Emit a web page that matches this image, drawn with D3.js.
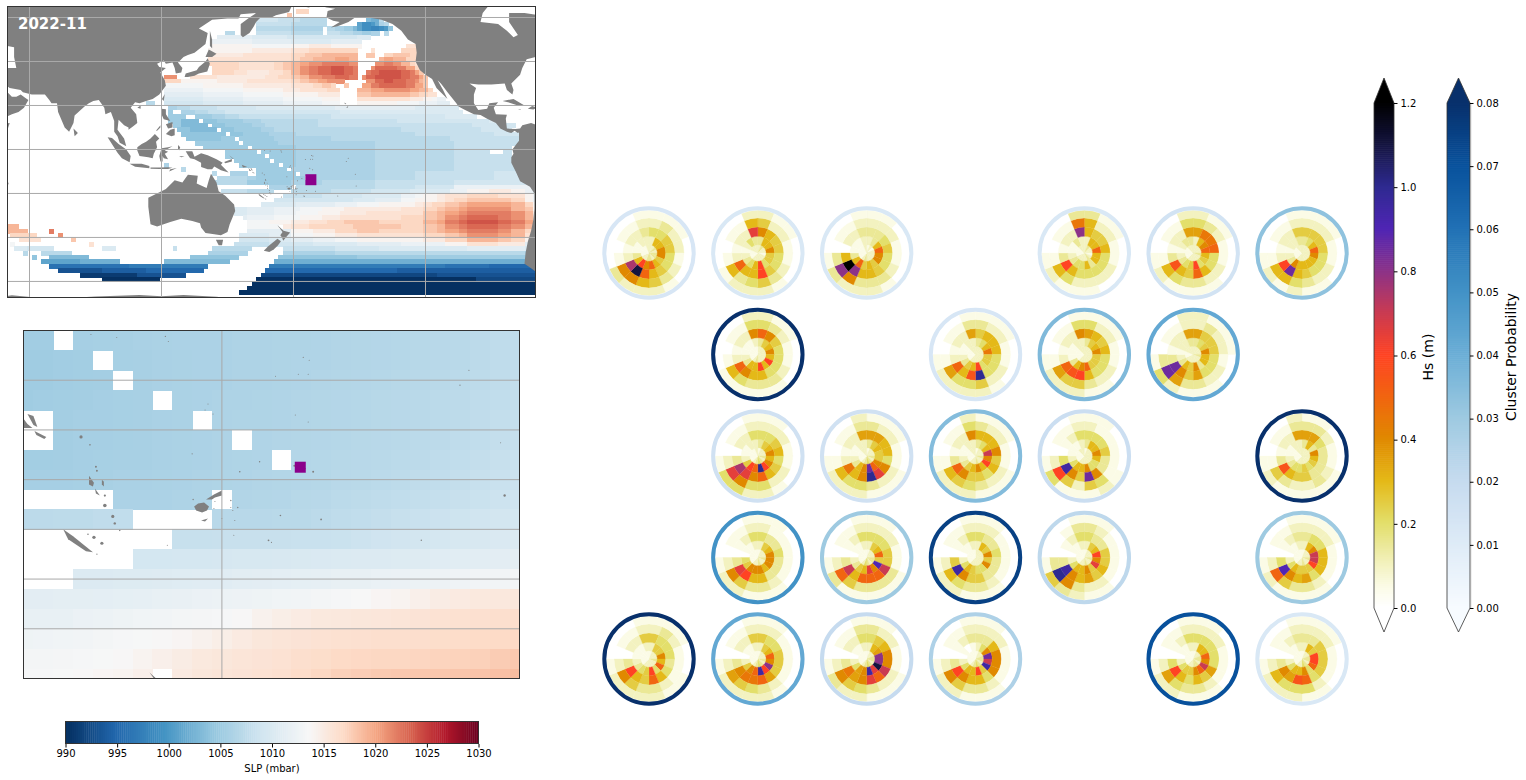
<!DOCTYPE html>
<html>
<head>
<meta charset="utf-8">
<script src="https://cdn.jsdelivr.net/npm/d3@7"></script>
<style>
  html, body { margin: 0; padding: 0; background: #fff; }
  svg { display: block; }
  text { font-family: "DejaVu Sans", sans-serif; }
</style>
</head>
<body>
<svg id="chart" width="1526" height="780"></svg>
<script>
// SLP colour bar
const slpTicks = [990, 995, 1000, 1005, 1010, 1015, 1020, 1025, 1030];
const slpStops = [990, 994.7, 999.4, 1004, 1008.8, 1013.5, 1016.8, 1020, 1023.4, 1026.7, 1030];
const slpColors = ["#053061", "#2166ac", "#4393c3", "#92c5de", "#d1e5f0", "#f7f7f7", "#fddbc7", "#f4a582", "#d6604d", "#b2182b", "#67001f"];

// Hs and probability colour bars
const hsTicks = [0, 0.2, 0.4, 0.6, 0.8, 1.0, 1.2];
const hsStops = [0, 0.05, 0.1, 0.15, 0.2, 0.3, 0.4, 0.5, 0.6, 0.7, 0.8, 0.9, 1.0, 1.1, 1.2];
const hsColors = ["#ffffff", "#fbfbe6", "#f3f2c0", "#ebe896", "#e3df6b", "#e4b918", "#e08900", "#f16510", "#ff4323", "#c93b52", "#8b3288", "#4f25b4", "#2e2a90", "#14143f", "#000000"];
const probTicks = [0, 0.01, 0.02, 0.03, 0.04, 0.05, 0.06, 0.07, 0.08];
const probColors = ["#f7fbff", "#deebf7", "#c6dbef", "#9ecae1", "#6baed6", "#4292c6", "#2171b5", "#08519c", "#08306b"];

// Target location (lon, lat)
const siteLon = 187.9;
const siteLat = -13.75;

// Basin SLP, one run-length row per 2 degree band from 66N. Column 0 starts at 49E.
// "12." = 12 empty cells, "5k" = 5 cells at level k of slpLevels
const slpLevels = "ABCDEFGHIJabcdefghijklmnopqrstuvwxyzKLMNO"; // 990 .. 1030 mbar
const slpBasinRows = [
  "", "66.3r", "64.1s",
  "57.5j5i6h9.1d2c1h",
  "57.8i8h7.1b2J1a1c1g1h",
  "57.8h7g1.2h2g2f1d1b2J2I1J1a1e",
  "50.2h5.8i7h1.3i3h2g2f2g1.1h",
  "48.8l8k8j8j3k",
  "47.9m9l9k7l",
  "47.9o9n4o5p5o2o10.3q",
  "46.10o9p4q11r3.1q6.4r",
  "46.8p8q3q3r4s4t4t2.2s2.2r4s2r",
  "46.7q7q5q2r3s5t3u2t5.1t2u3t3r",
  "46.7r5q3q2r2s2t2u3v3w3w2v4.2v2w2v2t1r1q",
  "47.6r5q3q2r2s2t2v2w3x3y2x1w3.1v2x3x2w2u2r",
  "47.5r3q5p3q2r2t2v2w3x3y2x1w2.1w2x2y3y2x1w1u1s",
  "36.3v3.6q4p4p3p3q3r2s2t3v3w3x2w1.1v2x2y4y2x2w1u1s",
  "36.4r8o7p4q4q2q2r2s2t2u2v2v5.2v2x2y3x2w1v1t1s",
  "36.9n9o9p2p3q2q2r2s1r2.1s3.2u2w3x3x2w2u1s",
  "36.9m9n9o4p6q3r4.3t3u3v3v2u2t1r",
  "36.9l9m9n8o5p4.3s3t3t3t2s2r2q",
  "36.9k9l9m9n4o4.4q4q4q3p2o1n2m",
  "32.2h2.9j9k9l9m4n4.4o5o5n4m2l1l",
  "37.2g3h6i9j9k9k9l9l10k",
  "37.1f2.3g3h4i8j9j9j9k9k10k",
  "37.4f2.4f3g3h4i8i9i9j9j8j7k",
  "37.3f4d1.3e3f3f4g5h8h9i9i9j6j6j3k",
  "38.2f3d3d1.3e3f3f3g3h9h9i9i9i8i6j4j",
  "39.3e3d3d1.3e3f3f3g2h9h9h9h9i9i7j",
  "40.5e5e1.3e3f3f3g3g9h9h9h9i9i6j",
  "41.4e4e3f1.4f4f4g9g9h9h9h9i8i",
  "43.5f5f1.4f4f4g9g9g9h9h9i6i",
  "45.5f5f1.5f5f9g9g9h9h9i4i",
  "50.7f1.8f9g9g9h9h8i3.2i",
  "50.9f1.6f9g9g9h9h9i4i",
  "52.8f1.5f9g9g9h9h9i4i",
  "36.1g16.9f1.3f9g9g9h9h9i5i",
  "40.1h16.7f1.10g9g9h9h9i6i",
  "47.1h3.4g2.9f1.8g9g9h9i9i7j",
  "48.7h2g9f2f1.6g9g9h9i9i8j",
  "47.8h10f7g3h9h9i9i9j9j",
  "60.5g1.9h9h9i9j9m9m1m",
  "49.6i6h4.9h9i9j9k4m5o5p3o2m1k",
  "63.9i9j9k3m2n3o2p5q7r6q2o1m",
  "61.9j9j5k6l3n2o3o2p2q3r7s3s3r2o1m",
  "58.8k9l5m5n5o3o2p2q3r3s2t7u3u3t2r1o",
  "52.3k6l6m5n5o5p8p5q3r2s3t2u7v3v3t2s1o",
  "52.3k6l5m5n5o6p8q5q3s2t3u2v7w3w3v2t1p",
  "54.1l6m6n5o4p4q5q5q5r3s2t3v2w7x3w3v2t1p",
  "55.5n5o4p4q4r4s4s5r5r3t2u3w2x7y3x3w2u1p",
  "3t52.7n1.2p4q4r6r4s7s5r3s2t3v2w7x3w3v2t1o",
  "5t5.1w44.10l5o5p5r5s5r5r3s2t3u2v7w3v3t2r1n",
  "1.6r5.1v40.7k5l5n5o5p5q5q5q5r3s2t7v3u3t2q1m",
  "3.5q7.1s37.7j5k5l5m5n5o5o5o5p5r7t3s3r2o1l",
  "1.1n17.1q32.8i5j5j5k5k5l5l5m5m5o7q6p3l",
  "2.3k6j11.3k13.1i8.9h7.7i5i5j5j5k5k5k5k7l6l3k",
  "4.1h3.7h31.9g8.7g5g5h5h5h5h5h5h7h6h3g",
  "6.1e3.9d23.11e9.8e5e5e5f5f5f5f5f7f6f3e",
  "8.9b9c10.8d7d10.9c5c5c5c5c5c5c5c7c6c3b",
  "10.9G9G8H10H14.40H10G11F",
  "12.10D10E13F14.30F32E",
  "17.13B11D17.40C23D",
  "22.13A22.50A14C",
  "56.65A",
  "55.66A",
  "53.68A",
  ""
];

// Zoomed SLP around the site: mbar above 1000, 2 degree cells from 159E and 0 lat
const n = null;
const slpZoomRows = [
  [5.2, 5.2, n, 5.5, 5.6, 5.7, 5.8, 5.9, 6, 6, 6, 6.1, 6.1, 6.2, 6.2, 6.3, 6.4, 6.5, 6.6, 6.7, 6.8, 6.9, 7, 7.2, 7.4, 7.5],
  [5.1, 5.1, 5.2, 5.3, n, 5.6, 5.7, 5.8, 5.9, 6, 6, 6.1, 6.1, 6.2, 6.3, 6.3, 6.4, 6.5, 6.6, 6.7, 6.8, 6.9, 7, 7.2, 7.4, 7.6],
  [5.1, 5.1, 5.2, 5.3, 5.4, n, 5.7, 5.8, 5.9, 6, 6, 6.1, 6.1, 6.2, 6.3, 6.4, 6.5, 6.6, 6.7, 6.8, 6.9, 7, 7.1, 7.3, 7.5, 7.7],
  [5.1, 5.2, 5.3, 5.4, 5.5, 5.6, 5.7, n, 5.9, 6, 6.1, 6.1, 6.2, 6.3, 6.4, 6.5, 6.6, 6.7, 6.8, 6.9, 7, 7.1, 7.2, 7.4, 7.6, 7.8],
  [n, n, 5.4, 5.5, 5.5, 5.6, 5.7, 5.8, 5.9, n, 6.1, 6.2, 6.2, 6.3, 6.4, 6.5, 6.6, 6.7, 6.8, 6.9, 7, 7.1, 7.3, 7.5, 7.7, 7.9],
  [n, n, 5.4, 5.5, 5.5, 5.6, 5.7, 5.8, 5.9, 6, 6.1, n, 6.3, 6.4, 6.5, 6.6, 6.7, 6.8, 6.9, 7, 7.1, 7.2, 7.4, 7.6, 7.8, 8],
  [5.3, 5.3, 5.4, 5.5, 5.6, 5.7, 5.7, 5.8, 5.9, 6, 6.1, 6.2, 6.3, n, 6.6, 6.7, 6.8, 6.9, 7, 7.1, 7.2, 7.4, 7.6, 7.8, 8, 8.2],
  [5.5, 5.5, 5.5, 5.6, 5.7, 5.8, 5.8, 5.9, 6, 6.1, 6.2, 6.3, 6.4, 6.5, 6.6, 6.7, 6.9, 7, 7.1, 7.3, 7.5, 7.6, 7.8, 8, 8.2, 8.4],
  [n, n, n, n, n, 6, 6, 6, 6.1, 6.2, n, 6.4, 6.5, 6.6, 6.8, 6.9, 7.1, 7.3, 7.4, 7.6, 7.7, 7.9, 8.1, 8.3, 8.5, 8.7],
  [7.2, 7.2, 7.3, 7.3, 7.5, 7.6, n, n, n, n, 6.9, 6.9, 6.9, 7, 7, 7.2, 7.4, 7.6, 7.8, 8, 8.2, 8.4, 8.6, 8.8, 9, 9.2],
  [n, n, n, n, n, n, n, n, 8, 8, 8.1, 8.1, 8.1, 8.1, 8.2, 8.2, 8.3, 8.5, 8.7, 8.9, 9.1, 9.3, 9.5, 9.7, 9.9, 10],
  [n, n, n, n, n, n, 9.2, 9.2, 9.3, 9.3, 9.4, 9.5, 9.6, 9.7, 9.8, 9.9, 10, 10.1, 10.2, 10.3, 10.4, 10.6, 10.8, 10.9, 11, 11.1],
  [n, n, n, 10.2, 10.2, 10.3, 10.3, 10.4, 10.5, 10.6, 10.7, 10.9, 11, 11.2, 11.3, 11.4, 11.6, 11.7, 11.9, 12, 12.2, 12.3, 12.5, 12.7, 12.8, 13],
  [11, 11, 11.1, 11.1, 11.2, 11.3, 11.4, 11.6, 11.8, 12, 12.1, 12.3, 12.4, 12.6, 12.8, 13, 13.2, 13.5, 13.8, 14, 14.4, 14.8, 15, 15.2, 15.3, 15.4],
  [11.6, 11.6, 11.7, 12, 12.2, 12.4, 12.6, 12.8, 13, 13.1, 13.3, 13.6, 14.2, 14.6, 14.9, 15.2, 15.3, 15.4, 15.5, 15.6, 15.8, 16, 16.1, 16.2, 16.3, 16.4],
  [12.4, 12.5, 12.6, 12.8, 13, 13.2, 13.4, 13.6, 13.8, 14.2, 14.6, 15, 15.4, 15.6, 15.8, 16, 16.1, 16.2, 16.3, 16.3, 16.4, 16.5, 16.6, 16.7, 16.8, 16.9],
  [13, 13, 13.1, 13.2, 13.4, 13.6, 14, 14.4, 14.8, 15.2, 15.4, 15.6, 15.8, 16, 16.3, 16.5, 16.8, 16.9, 17, 17, 17.1, 17.2, 17.3, 17.4, 17.7, 17.9],
  [13.2, 13.3, 13.4, 13.6, 13.8, 14, 14.4, n, 15, 15.4, 15.6, 15.8, 16, 16.2, 16.6, 17, 17.4, 17.6, 17.8, 17.9, 18, 18, 18.1, 18.2, 18.4, 18.6]
];

// Land outlines as lon/lat lists (lon runs past 180 so the Pacific stays whole)
const landShapes = [
  [[20,75],[190,75],[190,66],[187,64.5],[182,65.5],[179,64.8],[178,62.5],[172,61],[170,60],[165,60],[163,58],[162,56],[160,53],[157,51],[156,52],[156,57],[160,60],[163,62],[156,61.5],[155,59.5],[150,59.5],[143,59],[137,55],[141,53],[140,48],[135,44],[132,43],[130,42],[128,40],[127.5,39.5],[129.5,37],[129,35],[126.5,34.5],[126,37],[125,39.5],[122,39],[121,40.5],[118,39],[119,37.5],[122,37],[119.5,35],[121.5,31.5],[122,29],[119,25],[116,23],[113,22],[110,21],[108,21.5],[106,19],[108.5,16],[109,12],[107,10.5],[105,9],[105,10],[103,11],[100.5,13.5],[100,9],[103,5],[104,1.5],[101,3],[100,6],[98.5,8],[98.5,13],[97,17],[94.5,16],[94,19],[91.5,22.5],[89,22],[87,21],[85,19.5],[80.5,15.5],[80,12],[78,8],[76,10],[73,17],[72.5,21],[70,21],[69,22.5],[67,25],[61,25],[57,26],[56,27],[51,28],[48,30],[50,26],[52,24],[54,24],[56,25],[58,23.5],[59.5,22.5],[57.5,19],[55,17],[52,16],[45,13],[43,13],[40,16],[35,28],[30,31],[20,33]],
  [[30,10],[51,12],[49,6],[41,-2],[30,-10]],
  [[49,-12],[50.5,-15.5],[49.5,-18],[47,-25],[44,-25],[44,-16]],
  [[80,9.5],[82,7.5],[80.5,6]],
  [[130.5,33],[131,34.5],[136,36],[137,37.5],[140,40],[141,41.5],[142,39],[140.8,35.5],[137,34.5],[135,33.5],[132,33]],
  [[140,42],[141.5,45.5],[145,43.5],[143,42]],
  [[142,54],[143,50],[143,46],[142,47],[142,52]],
  [[120.2,23],[121.5,25.2],[121,22]],
  [[109,19],[110.5,20],[110.5,18.5]],
  [[120,18.5],[122,18.3],[122,16],[124,13],[121,13.7],[120,16]],
  [[122,7],[124,9],[126,9.5],[126,6.5],[124.5,6]],
  [[122,11.5],[125,12.5],[125,10],[123,9.5]],
  [[117.5,8.5],[119.5,11],[119.5,10],[118,8.5]],
  [[109,1],[111,2.5],[113,3.5],[115,5],[117,7],[119,5],[117.5,3.5],[118,1],[116.5,-2],[116,-4],[114,-3.5],[110,-3],[109,-0.5]],
  [[95.5,5.5],[97.5,5.2],[100.5,2.5],[104,0],[106,-3],[105.5,-5.8],[102,-4],[100,-1.5]],
  [[105.5,-6.5],[108,-6.5],[111,-6.5],[114.5,-7.5],[114.5,-8.5],[108,-7.8]],
  [[115,-8.2],[119,-8.2],[123,-8.1],[125,-8.3],[123,-8.9],[119,-8.9],[115,-8.8]],
  [[123.5,-10],[127,-8.4],[124,-9]],
  [[119.5,-5.5],[119,-3],[120,0.5],[123,1],[125,1.5],[121.5,-0.5],[123,-1],[121.5,-2],[123,-4.5],[121,-4],[120.5,-3],[120.5,-5.5]],
  [[127.5,2],[128.5,1],[128,-0.5],[127.5,0.5]],
  [[128,-3],[130.5,-3.2],[129,-3.5]],
  [[131,-0.8],[134,-0.8],[135,-3.3],[138,-1.7],[141,-2.6],[145,-4.5],[147.8,-6],[147,-7],[150.5,-10.5],[147,-9.5],[144,-7.7],[143,-9],[141,-9],[138,-8],[138,-6],[135,-4.5],[133,-4],[132,-2.5]],
  [[148.5,-5.7],[152,-4.3],[152,-5.5],[149,-6.3]],
  [[150.8,-2.6],[153,-4.5],[152.3,-4.2]],
  [[156.5,-7],[159,-8],[157,-8.2]],
  [[159.5,-8.2],[160.4,-9.4],[160.9,-9.8],[160,-9.8]],
  [[160.4,-8.4],[161,-8.6],[161.4,-9.7],[161,-9.5]],
  [[161.1,-10.1],[162.3,-10.7],[162.1,-10.9],[161.3,-10.5]],
  [[164,-20],[165,-20.7],[167,-22.3],[166.3,-22.2],[164.5,-21]],
  [[166.6,-14.6],[167.1,-15.3],[167,-15.7],[166.6,-15.5]],
  [[167.2,-15.9],[167.7,-16.6],[167.3,-16.4]],
  [[167.9,-15],[168.1,-15.2],[168.1,-15.7],[167.9,-15.5]],
  [[177.2,-17.7],[177.6,-17.4],[178.2,-17.3],[178.7,-17.7],[178.5,-18.1],[178,-18.3],[177.4,-18.1]],
  [[178.4,-17],[179.2,-16.5],[180,-16.1],[180,-16.6],[179.3,-16.8],[179,-17]],
  [[177.9,-19.1],[178.6,-18.9],[178.3,-19.2]],
  [[172.7,-34.4],[174.5,-36],[175.5,-37],[178.5,-37.7],[177,-39.5],[175.3,-41.5],[174.8,-40],[174,-39],[175,-37.5]],
  [[172.7,-40.6],[174.3,-41.7],[172.8,-43.8],[171,-45.5],[169,-46.6],[166.5,-46],[168.5,-44]],
  [[114,-22],[114,-26],[115,-34],[118,-35],[124,-33],[129,-31.5],[134,-32.5],[137.5,-33.5],[138,-35.5],[140,-38],[144,-38.5],[147,-39],[150,-37.5],[151,-34],[153.5,-28],[153,-25],[149,-21],[146,-19],[145,-15],[142.5,-11],[141.5,-14],[140.5,-17.5],[136,-15.5],[136.5,-12],[132,-11.5],[129.5,-15],[126,-14],[122,-18],[117,-20.5]],
  [[144.7,-41],[148,-41],[147.5,-43.5],[146,-43.5]],
  [[40,-68],[52,-66.3],[58,-66.8],[70,-68],[90,-66.8],[100,-66.5],[110,-66.2],[120,-66.7],[130,-66.2],[145,-67],[155,-68]],
  [[192,65.5],[195,64.5],[199,64],[195.5,63],[195,60],[198,58.5],[201,58],[197,55.5],[200,56],[205,58],[208,60],[212,60],[214,60],[220,59],[225,57],[229,54],[232,50],[235.5,48],[236,44],[235.5,40],[237.5,36],[240,34],[243,32],[245,28],[250,23],[248,27],[245.5,31.5],[247,30],[250,26],[254,21],[255,19.5],[258,18],[262,16],[265,15.7],[268,14],[272,12],[274,9.5],[277,8],[279,7.5],[280.5,8.5],[282,7.5],[283,8],[283,9.5],[281,9.3],[277,9.5],[276.5,14],[277,15.8],[272,16],[271,19],[273,21.5],[269,21],[268,18.5],[264,18],[262,21],[262,25],[263,28],[260,30],[264,29.5],[270,29.5],[276,30],[277,27],[279.5,25],[280,27],[279,30],[283,34],[284,37],[286,41],[290,42],[295,45],[300,50],[300,75],[192,75]],
  [[275,22],[280,23],[285,20],[282,20],[277.5,21.5]],
  [[288.5,19.8],[291,19],[289,18.2],[286.5,18.5]],
  [[282,18.3],[283.5,18.2],[283,17.9]],
  [[204,19],[205,20],[204.5,18.9]],
  [[203,21.3],[204,20.8],[203.5,20.6]],
  [[282.5,8.5],[283,9.5],[284,11],[288,12],[291,11],[300,10],[300,-56],[290,-55.5],[288,-54],[285,-52],[285.5,-47],[286.5,-42],[288,-37],[289,-32],[289.5,-27],[289.5,-20],[287.5,-17],[283,-14.5],[281,-10],[279,-6],[279,-3.5],[280,-2],[279.5,0],[281,2],[282.5,4],[282.5,7]]
];
// Inland and polar water, painted back over the land
const waterShapes = [
  [[50,47],[53,46.5],[53,42],[54,37],[50,37]],
  [[265,58],[266,62],[270,67],[292,67],[292,61],[285,62],[278,62],[278,58],[280,55],[282,52],[280,51],[277,54],[273,57]]
];
// Small islands: lon, lat, radius in degrees
const islets = [
  [166.8,-0.4,.05],[169.4,-0.7,.04],[174.3,-0.6,.06],[174.6,-1.1,.05],[188.2,-2.7,.06],[188.8,-3,.04],[185.4,-4.6,.05],[187.7,-4.4,.05],[188.7,-4.4,.03],[204.9,-4,.06],[204,-5.5,.06],[178.6,-7.4,.03],[178.3,-8,.03],[179.1,-8.4,.05],[187.4,-8.5,.05],[188.7,-9.2,.05],[165.8,-10.7,.16],[166.7,-11.5,.08],[208.1,-11.3,.05],[177,-12.4,.06],[183.8,-13.2,.07],[181.8,-14.2,.08],[187.3,-13.6,.1],[188.4,-13.9,.06],[189.2,-14.2,.1],[167.3,-13.7,.1],[167.4,-14.1,.1],[208.5,-16.6,.12],[177.1,-17,.07],[179.3,-17.2,.05],[180.9,-17.1,.07],[180.9,-17.8,.05],[181.6,-17.8,.07],[179.2,-17.9,.05],[181.1,-18.1,.05],[185.9,-18.6,.08],[190,-19,.09],[180,-18.9,.05],[181.3,-19.1,.05],[181.2,-20.6,.05],[184.7,-21.1,.09],[185,-21.3,.06],[200.1,-21.1,.07],[174.5,-21.6,.04],[167.4,-22.5,.06],[166.5,-20.5,.08],[167.1,-20.8,.17],[167.9,-21.4,.16],[168.2,-17.6,.18],[169,-18.7,.16],[169.2,-19.4,.12],[169.7,-20.1,.08],[168.2,-16.6,.11]
];

// Wave roses: grid cell, cluster probability, then Hs per ring (inner to outer).
// One base-36 digit per 22.5 degree sector clockwise from north, digit * 0.05 m
const roseCells = [
  [0,0],[0,1],[0,2],[0,4],[0,5],[0,6],
  [1,1],[1,3],[1,4],[1,5],
  [2,1],[2,2],[2,3],[2,4],[2,6],
  [3,1],[3,2],[3,3],[3,4],[3,6],
  [4,0],[4,1],[4,2],[4,3],[4,5],[4,6]
];
const roseProb = [
  0.013, 0.012, 0.012, 0.012, 0.015, 0.033,
  0.08, 0.013, 0.036, 0.042,
  0.016, 0.016, 0.035, 0.018, 0.08,
  0.05, 0.03, 0.075, 0.022, 0.03,
  0.08, 0.042, 0.02, 0.026, 0.07, 0.012
];
const roseHs = [
  ["2232332332211112","2668856a8c631122","44554456amf21223","2322123568810112","1110001222300001"],
  ["2322122222111222","3668554c64321243","8655445c66a2122d","5221123543610116","2110001222100002"],
  ["1212222232111112","236a88565a631112","334544566go60223","2221123338g30112","1100001222310001"],
  ["2322123222211122","266a663644321132","6556444446c3122g","6221122224610119","3110000111210003"],
  ["2222322222111122","268a654c54321233","799a446a56b31227","4321122334610114","2110001111210002"],
  ["2222222222111122","346a866668321223","555544456hc21225","2221122346610112","1110001121210001"],
  ["2222222232111111","35686c6c66321112","a854444668a21228","4321123334610114","2110001111100002"],
  ["2222222222111122","3469554c65321122","5666444kb6a21227","3221122544710113","1110001222210001"],
  ["2222222222111122","3568555a86311122","76564446cba21228","4221122355710114","1110001122210001"],
  ["2222322222211222","3458663856321223","7555444758h31227","2322122337h30112","2111001112410002"],
  ["1222323432111112","356868ckac521122","4456456a8df30224","2221122448d20112","1100001224410001"],
  ["1222323432111122","356558ah86321122","776648dk86921227","3221122344610113","1110011122210002"],
  ["1222322322111122","346e8c6865321122","6668564558a31228","3221122345610114","1110011122210002"],
  ["1222222222111122","3668644866421112","4445338h58j40124","2111114525c20112","1100012111410001"],
  ["2222222222111122","3638654544321122","7743333556b31227","3321123223510113","1100011111210002"],
  ["1222322322111111","2568886888540112","433433366cd30124","2111112335820112","1100001112210001"],
  ["1222332342111111","256a5i8d65320112","44455eaaa6e30124","2221133335a20112","1100011111310001"],
  ["2222222222111111","2658584456420112","4334333558j50124","2211112334620112","1100001112210001"],
  ["1222322322111111","256c8d5866420112","4335565768j30124","3211112238k30013","1100001123510001"],
  ["1222322322111111","268eec5556420112","3446664768i40123","2221112335a20112","1110001111210001"],
  ["1222322222111111","25586a4c54321112","5444346a56c30225","2321112335820112","1110011222210001"],
  ["1222323432111111","256a8gcja8520112","5445557a99830225","2211112345720112","1100001222210001"],
  ["1223323432111111","267ggmdj87420112","45688ead87930224","3221122345820113","1100011122310001"],
  ["1223323432111111","248hej5c66420101","3368884668c30123","2221112335820112","1100001112210001"],
  ["1223323322111111","266a8ea855420112","4444475646c40124","2221112334720112","1100001112210001"],
  ["1223323422111111","265cca4866420112","3355554ab7830123","2221112444620112","1110001122210001"]
];

const svg = d3.select("#chart");
const slpColor = d3.scaleLinear().domain(slpStops).range(slpColors).clamp(true);
const hsColor = d3.scaleLinear().domain(hsStops).range(hsColors).clamp(true);
const probColor = d3.scaleLinear().domain(probTicks).range(probColors).clamp(true);

// Expand the basin rows into cells
const basinCells = [];
slpBasinRows.forEach((row, i) => {
  let col = 0;
  for (const [, run, code] of row.matchAll(/(\d+)([A-Za-z.])/g)) {
    if (code !== ".") {
      for (let k = 0; k < +run; k++) {
        basinCells.push({ lon: 49 + 2 * (col + k), lat: 66 - 2 * i, slp: 990 + slpLevels.indexOf(code) });
      }
    }
    col += +run;
  }
});
const zoomCells = [];
slpZoomRows.forEach((row, i) => {
  row.forEach((v, c) => {
    if (v !== null) zoomCells.push({ lon: 159 + 2 * c, lat: -2 * i, slp: 1000 + v });
  });
});

const drawMap = (id, cfg, cells) => {
  const x = d3.scaleLinear().domain(cfg.lon).range([cfg.x0, cfg.x1]);
  const y = d3.scaleLinear().domain(cfg.lat).range([cfg.y0, cfg.y1]);
  const shape = d3.line().x((d) => x(d[0])).y((d) => y(d[1]));
  const cellW = Math.abs(x(2) - x(0));
  const cellH = Math.abs(y(-2) - y(0));

  svg.append("clipPath").attr("id", id)
    .append("rect")
    .attr("x", cfg.x0).attr("y", cfg.y0)
    .attr("width", cfg.x1 - cfg.x0).attr("height", cfg.y1 - cfg.y0);

  const g = svg.append("g").attr("clip-path", `url(#${id})`);

  g.selectAll("rect.cell")
    .data(cells)
    .enter()
    .append("rect")
    .attr("class", "cell")
    .attr("x", (d) => x(d.lon))
    .attr("y", (d) => y(d.lat))
    .attr("width", cellW + 0.5)
    .attr("height", cellH + 0.5)
    .attr("shape-rendering", "crispEdges")
    .attr("fill", (d) => slpColor(d.slp));

  g.selectAll("path.land")
    .data(landShapes)
    .enter()
    .append("path")
    .attr("d", (d) => shape(d) + "Z")
    .attr("fill", "#808080");

  g.selectAll("path.water")
    .data(waterShapes)
    .enter()
    .append("path")
    .attr("d", (d) => shape(d) + "Z")
    .attr("fill", "#fff");

  g.selectAll("circle.islet")
    .data(islets)
    .enter()
    .append("circle")
    .attr("cx", (d) => x(d[0]))
    .attr("cy", (d) => y(d[1]))
    .attr("r", (d) => Math.max(0.5, d[2] * cellW / 2))
    .attr("fill", "#808080");

  // Gridlines
  g.selectAll("line.lon")
    .data(cfg.gridLon)
    .enter()
    .append("line")
    .attr("x1", (d) => x(d)).attr("x2", (d) => x(d))
    .attr("y1", cfg.y0).attr("y2", cfg.y1)
    .attr("stroke", "#a9a9a9");
  g.selectAll("line.lat")
    .data(cfg.gridLat)
    .enter()
    .append("line")
    .attr("x1", cfg.x0).attr("x2", cfg.x1)
    .attr("y1", (d) => y(d)).attr("y2", (d) => y(d))
    .attr("stroke", "#a9a9a9");

  // Site marker
  g.append("rect")
    .attr("x", x(siteLon) - cfg.marker / 2)
    .attr("y", y(siteLat) - cfg.marker / 2)
    .attr("width", cfg.marker)
    .attr("height", cfg.marker)
    .attr("fill", "#8b008b");

  svg.append("rect")
    .attr("x", cfg.x0).attr("y", cfg.y0)
    .attr("width", cfg.x1 - cfg.x0).attr("height", cfg.y1 - cfg.y0)
    .attr("fill", "none")
    .attr("stroke", "#333");
};

drawMap("basin", {
  lon: [50, 290], lat: [65, -67.3], x0: 7.5, x1: 535.5, y0: 6.5, y1: 297.5, marker: 11,
  gridLon: [60, 120, 180, 240], gridLat: [60, 40, 20, 0, -20, -40, -60]
}, basinCells);

drawMap("zoom", {
  lon: [160, 210], lat: [0, -35], x0: 23.5, x1: 519.5, y0: 330.5, y1: 678.5, marker: 11,
  gridLon: [180], gridLat: [-5, -10, -15, -20, -25, -30]
}, zoomCells);

svg.append("text")
  .attr("x", 18).attr("y", 29)
  .attr("fill", "#fff")
  .attr("font-size", 15)
  .attr("font-weight", "bold")
  .text("2022-11");

// SLP colour bar (horizontal)
const slpX = d3.scaleLinear().domain([990, 1030]).range([65.5, 478.5]);
svg.append("g")
  .selectAll("rect")
  .data(d3.range(990, 1030, 0.2))
  .enter()
  .append("rect")
  .attr("x", (d) => slpX(d))
  .attr("y", 721)
  .attr("width", (d) => slpX(Math.min(d + 0.2, 1030)) - slpX(d) + (d < 1029.7 ? 0.4 : 0))
  .attr("height", 23)
  .attr("fill", (d) => slpColor(d));
svg.append("rect")
  .attr("x", 65.5).attr("y", 721.5).attr("width", 413).attr("height", 22)
  .attr("fill", "none").attr("stroke", "#333");
const slpAxis = svg.append("g")
  .attr("transform", "translate(0,744)")
  .call(d3.axisBottom(slpX).tickValues(slpTicks).tickSize(3.5).tickPadding(2).tickFormat(d3.format("d")));
slpAxis.select(".domain").remove();
slpAxis.selectAll("text").attr("font-size", 10).attr("font-family", "DejaVu Sans").attr("fill", "#000");
svg.append("text")
  .attr("x", 272).attr("y", 772)
  .attr("text-anchor", "middle")
  .attr("font-size", 10)
  .text("SLP (mbar)");

// Vertical colour bars with extend triangles
const drawBar = (cfg) => {
  const y = d3.scaleLinear().domain(cfg.domain).range([608, 103]);
  const span = cfg.domain[1] - cfg.domain[0];
  svg.append("g")
    .selectAll("rect")
    .data(d3.range(0, 250))
    .enter()
    .append("rect")
    .attr("x", cfg.x0)
    .attr("y", (d) => y(((d + 1) * span) / 250) - 0.3)
    .attr("width", cfg.x1 - cfg.x0)
    .attr("height", 505 / 250 + 0.6)
    .attr("fill", (d) => cfg.color((d * span) / 250));
  const mid = (cfg.x0 + cfg.x1) / 2;
  svg.append("path")
    .attr("d", `M${cfg.x0},103L${mid},78L${cfg.x1},103Z`)
    .attr("fill", cfg.color(cfg.domain[1]));
  svg.append("path")
    .attr("d", `M${cfg.x0},608L${mid},632L${cfg.x1},608Z`)
    .attr("fill", cfg.color(cfg.domain[0]));
  svg.append("path")
    .attr("d", `M${cfg.x0},103L${mid},78L${cfg.x1},103V608L${mid},632L${cfg.x0},608Z`)
    .attr("fill", "none")
    .attr("stroke", "#333")
    .attr("stroke-width", 0.8);
  if (cfg.edge) {
    svg.append("line")
      .attr("x1", cfg.x1 + 0.7).attr("x2", cfg.x1 + 0.7)
      .attr("y1", 103).attr("y2", 608)
      .attr("stroke", "#aaa");
  }
  const axis = svg.append("g")
    .attr("transform", `translate(${cfg.x1},0)`)
    .call(d3.axisRight(y).tickValues(cfg.ticks).tickSize(3.5).tickPadding(3).tickFormat(d3.format(cfg.format)));
  axis.select(".domain").remove();
  axis.selectAll("text").attr("font-size", 10).attr("font-family", "DejaVu Sans").attr("fill", "#000");
  svg.append("text")
    .attr("transform", `translate(${cfg.labelX},357) rotate(-90)`)
    .attr("text-anchor", "middle")
    .attr("font-size", 14)
    .text(cfg.label);
};

drawBar({ domain: [0, 1.2], ticks: hsTicks, format: ".1f", color: hsColor, x0: 1374, x1: 1394, labelX: 1433, label: "Hs (m)" });
drawBar({ domain: [0, 0.08], ticks: probTicks, format: ".2f", color: probColor, x0: 1447, x1: 1470, labelX: 1516, edge: true, label: "Cluster Probability" });

// Wave roses
const roseX = d3.scaleLinear().domain([0, 6]).range([649, 1302]);
const roseY = d3.scaleLinear().domain([0, 4]).range([253, 659]);
const ringEdges = [0, 8.3, 16.7, 26, 35, 42.6];
const sectorAngle = d3.scaleLinear().domain([0, 16]).range([0, 2 * Math.PI]);
const arc = d3.arc();

roseCells.forEach((cell, idx) => {
  const rose = svg.append("g")
    .attr("transform", `translate(${roseX(cell[1])},${roseY(cell[0])})`);

  const wedges = [];
  roseHs[idx].forEach((ring, r) => {
    ring.split("").forEach((ch, k) => {
      const hs = parseInt(ch, 36) * 0.05;
      if (hs > 0) wedges.push({ r, k, hs });
    });
  });

  rose.selectAll("path")
    .data(wedges)
    .enter()
    .append("path")
    .attr("d", (d) => arc({
      innerRadius: ringEdges[d.r],
      outerRadius: ringEdges[d.r + 1],
      startAngle: sectorAngle(d.k),
      endAngle: sectorAngle(d.k + 1)
    }))
    .attr("fill", (d) => hsColor(d.hs))
    .attr("stroke", (d) => hsColor(d.hs))
    .attr("stroke-width", 0.3);

  rose.append("circle")
    .attr("r", 44.7)
    .attr("fill", "none")
    .attr("stroke", probColor(roseProb[idx]))
    .attr("stroke-width", 4);
});
</script>
</body>
</html>
